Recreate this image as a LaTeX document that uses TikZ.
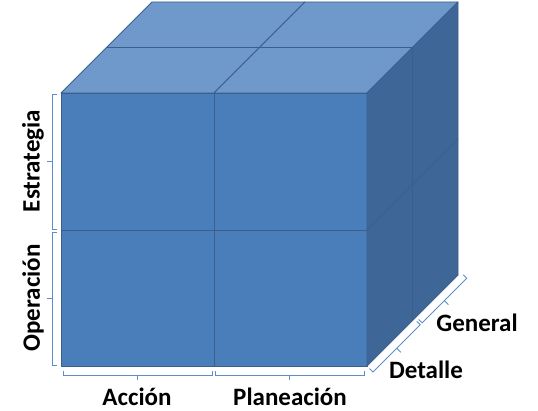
\documentclass[tikz,border=0pt]{standalone}
\usepackage{fontspec}
\usepackage{xcolor}
\setmainfont{Carlito}
\usetikzlibrary{scopes}

\definecolor{frente}{HTML}{4A7EBB}
\definecolor{arriba}{HTML}{7099CB}
\definecolor{lado}{HTML}{3E6798}
\definecolor{borde}{HTML}{3A5F8C}
\definecolor{llave}{HTML}{5F8DC8}

\tikzset{
	caraF/.style={fill=frente,draw=borde,line width=0.8pt,line join=round},
	caraA/.style={fill=arriba,draw=borde,line width=0.8pt,line join=round},
	caraL/.style={fill=lado,draw=borde,line width=0.8pt,line join=round},
	llaveL/.style={draw=llave,line width=0.9pt},
	etiqueta/.style={font=\fontsize{25}{30}\selectfont\bfseries,text=black,inner sep=0pt}
}

\begin{document}
\begin{tikzpicture}[x=1pt,y=-1pt]
	\useasboundingbox (0,0) rectangle (538,411);
	
	\draw[caraF] (61,93) rectangle (214,230);
	\draw[caraF] (214,93) rectangle (367,230);
	\draw[caraF] (61,230) rectangle (214,366);
	\draw[caraF] (214,230) rectangle (367,366);
	
	\draw[caraA] (61,93) -- (214,93) -- (259.5,47.5) -- (106.5,47.5) -- cycle;
	\draw[caraA] (214,93) -- (367,93) -- (412.5,47.5) -- (259.5,47.5) -- cycle;
	\draw[caraA] (106.5,47.5) -- (259.5,47.5) -- (305,2) -- (152,2) -- cycle;
	\draw[caraA] (259.5,47.5) -- (412.5,47.5) -- (458,2) -- (305,2) -- cycle;
	
	\draw[caraL] (367,93) -- (412.5,47.5) -- (412.5,184.5) -- (367,230) -- cycle;
	\draw[caraL] (367,230) -- (412.5,184.5) -- (412.5,320.5) -- (367,366) -- cycle;
	\draw[caraL] (412.5,47.5) -- (458,2) -- (458,139) -- (412.5,184.5) -- cycle;
	\draw[caraL] (412.5,184.5) -- (458,139) -- (458,275) -- (412.5,320.5) -- cycle;
	
	\draw[llaveL] (63,371) -- (63,375) -- (212,375) -- (212,371);
	\draw[llaveL] (137.5,375) -- (137.5,380);
	\draw[llaveL] (215,371) -- (215,375) -- (364,375) -- (364,371);
	\draw[llaveL] (289.5,375) -- (289.5,380);
	
	\draw[llaveL] (57,94) -- (52,94) -- (52,229) -- (57,229);
	\draw[llaveL] (52,161.5) -- (47,161.5);
	\draw[llaveL] (57,232) -- (52,232) -- (52,365) -- (57,365);
	\draw[llaveL] (52,298) -- (47,298);
	
	\draw[llaveL] (369.5,368.5) -- (373,372) -- (420.3,324.7) -- (416.8,321.2);
	\draw[llaveL] (396.7,348.3) -- (400.7,352.3);
	\draw[llaveL] (418.6,319.4) -- (422.1,322.9) -- (466.7,278.3) -- (463.2,274.8);
	\draw[llaveL] (444.4,300.6) -- (448.4,304.6);
	
	\node[etiqueta] (accion) at (137,397) {Acción};
	\node[etiqueta] (planeacion) at (290,397) {Planeación};
	\node[etiqueta,rotate=90] (estrategia) at (33,161) {Estrategia};
	\node[etiqueta,rotate=90] (operacion) at (33,298) {Operación};
	\node[etiqueta] (detalle) at (426,370) {Detalle};
	\node[etiqueta] (general) at (477,323) {General};
\end{tikzpicture}
\end{document}
